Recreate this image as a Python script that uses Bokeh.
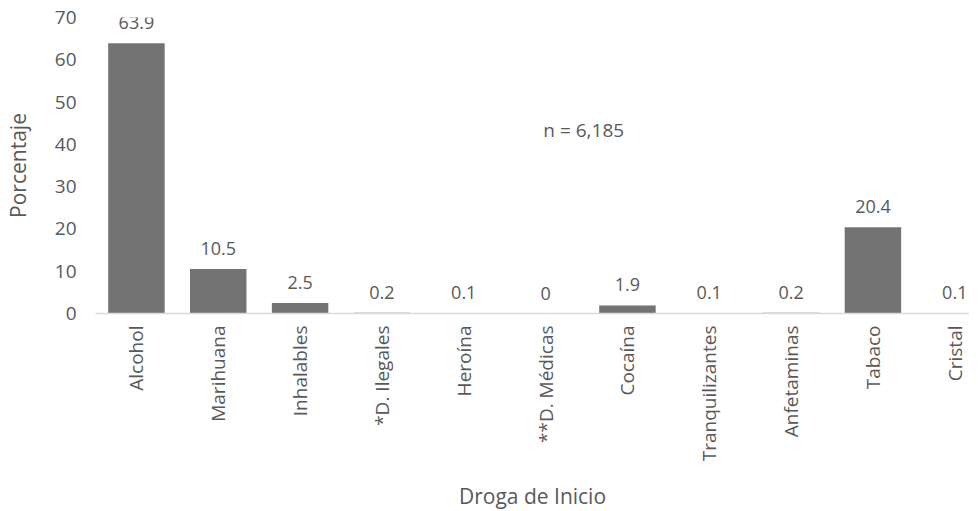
import math
from bokeh.plotting import figure
from bokeh.models import ColumnDataSource, Range1d, FixedTicker, Label, LabelSet
from bokeh.core.properties import value
from bokeh.embed import file_html
from bokeh.resources import INLINE

categories = ["Alcohol", "Marihuana", "Inhalables", "*D. Ilegales", "Heroína",
              "**D. Médicas", "Cocaína", "Tranquilizantes", "Anfetaminas", "Tabaco", "Cristal"]
values = [63.9, 10.5, 2.5, 0.2, 0.1, 0, 1.9, 0.1, 0.2, 20.4, 0.1]
value_labels = ["63.9", "10.5", "2.5", "0.2", "0.1", "0", "1.9", "0.1", "0.2", "20.4", "0.1"]
y_ticks = [0, 10, 20, 30, 40, 50, 60, 70]
note = "n = 6,185"

FONT = "Open Sans"
TXT = "#595959"
BAR = "#737373"

xs = list(range(len(categories)))
src = ColumnDataSource(dict(x=xs, top=values, lab=value_labels))

p = figure(frame_width=874, frame_height=296, output_backend="svg", toolbar_location=None,
           x_range=Range1d(-0.5, len(categories) - 0.5 - 0.32), y_range=Range1d(0, 70),
           min_border_left=88, min_border_top=17, min_border_right=0, min_border_bottom=0)
p.outline_line_color = None
p.grid.grid_line_color = None

p.vbar(x="x", top="top", width=0.69, source=src, fill_color=BAR, line_color=None)

labels = LabelSet(x="x", y="top", text="lab", source=src, text_align="center",
                  text_baseline="alphabetic", y_offset=14, text_font=value(FONT),
                  text_font_size="18px", text_color=TXT)
p.add_layout(labels)

p.add_layout(Label(x=5.466, y=43.3, text=note, text_align="center", text_baseline="middle",
                   text_font=FONT, text_font_size="19px", text_color=TXT))

xa = p.xaxis[0]
xa.ticker = FixedTicker(ticks=xs)
xa.major_label_overrides = {i: c for i, c in enumerate(categories)}
xa.major_label_orientation = math.pi / 2
xa.major_tick_line_color = None
xa.minor_tick_line_color = None
xa.major_tick_out = 0
xa.axis_line_color = "#d9d9d9"
xa.axis_line_width = 1.5
xa.major_label_standoff = 12
xa.major_label_text_font = FONT
xa.major_label_text_font_size = "19px"
xa.major_label_text_color = TXT
xa.axis_label = "Droga de Inicio"
xa.axis_label_text_font = FONT
xa.axis_label_text_font_size = "21px"
xa.axis_label_text_font_style = "normal"
xa.axis_label_text_color = TXT
xa.axis_label_standoff = 18

ya = p.yaxis[0]
ya.ticker = FixedTicker(ticks=y_ticks)
ya.axis_line_color = None
ya.major_tick_line_color = None
ya.minor_tick_line_color = None
ya.major_tick_out = 0
ya.major_label_standoff = 19
ya.major_label_text_font = FONT
ya.major_label_text_font_size = "19px"
ya.major_label_text_color = TXT
ya.axis_label = "Porcentaje"
ya.axis_label_text_font = FONT
ya.axis_label_text_font_size = "21px"
ya.axis_label_text_font_style = "normal"
ya.axis_label_text_color = TXT
ya.axis_label_standoff = 20

open("out.html", "w").write(file_html(p, INLINE))
